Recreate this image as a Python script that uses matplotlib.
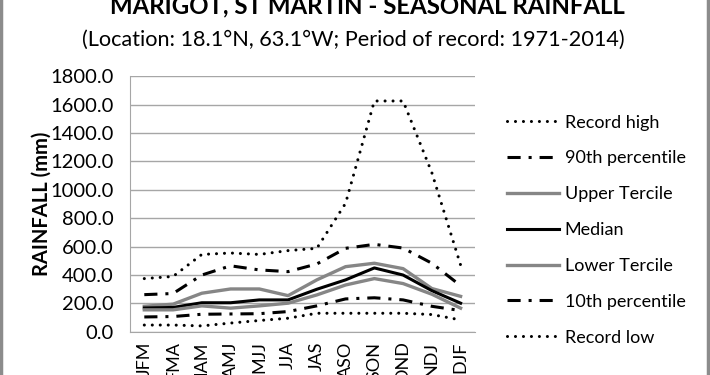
import matplotlib

matplotlib.use("Agg")
import matplotlib.pyplot as plt
from matplotlib.lines import Line2D

seasons = ["JFM", "FMA", "MAM", "AMJ", "MJJ", "JJA",
           "JAS", "ASO", "SON", "OND", "NDJ", "DJF"]

record_high = [375, 390, 545, 555, 545, 572, 588, 905, 1625, 1625, 1120, 470]
pct90 = [262, 270, 400, 465, 436, 424, 478, 588, 616, 590, 483, 325]
upper_tercile = [180, 195, 272, 302, 302, 255, 366, 459, 483, 445, 305, 250]
median = [168, 172, 205, 205, 225, 225, 300, 366, 450, 400, 290, 202]
lower_tercile = [155, 155, 183, 167, 183, 202, 260, 330, 375, 340, 265, 167]
pct10 = [105, 108, 124, 126, 128, 143, 183, 232, 240, 225, 180, 150]
record_low = [48, 48, 42, 62, 80, 96, 131, 131, 131, 131, 122, 84]

plt.rcParams["font.family"] = ["Lato", "DejaVu Sans"]

fig = plt.figure(figsize=(7.1, 3.75), dpi=100)
ax = fig.add_axes([0.183, 0.115, 0.486, 0.682])

x = range(len(seasons))
dot = (0, (0.01, 2.6))
dashdot = (0, (4.3, 2.6, 1.0, 2.6))

ax.plot(x, record_high, color="black", lw=2.2, linestyle=dot,
        dash_capstyle="round", label="Record high")
ax.plot(x, pct90, color="black", lw=2.2, linestyle=dashdot,
        dash_capstyle="butt", label="90th percentile")
ax.plot(x, upper_tercile, color="#868686", lw=2.4, label="Upper Tercile")
ax.plot(x, median, color="black", lw=2.2, label="Median")
ax.plot(x, lower_tercile, color="#868686", lw=2.4, label="Lower Tercile")
ax.plot(x, pct10, color="black", lw=2.2, linestyle=dashdot,
        dash_capstyle="butt", label="10th percentile")
ax.plot(x, record_low, color="black", lw=2.2, linestyle=dot,
        dash_capstyle="round", label="Record low")

ax.set_xlim(-0.5, len(seasons) - 0.5)
ax.set_ylim(0, 1800)
ax.set_yticks(range(0, 1801, 200))
ax.set_yticklabels([f"{v:.1f}" for v in range(0, 1801, 200)], fontsize=14.5)
ax.set_xticks(list(x))
ax.set_xticklabels(seasons, rotation=90, fontsize=13, va="top")
ax.tick_params(axis="y", length=0, pad=12)
ax.tick_params(axis="x", length=0, pad=7)
ax.yaxis.grid(True, color="#a6a6a6", lw=1)
ax.set_axisbelow(True)
for side in ("top", "right"):
    ax.spines[side].set_visible(False)
for side in ("left", "bottom"):
    ax.spines[side].set_color("#a6a6a6")
ax.set_ylabel("RAINFALL (mm)", fontsize=14.5, fontweight="bold", labelpad=-1)

ax.legend(loc="center left", bbox_to_anchor=(1.072, 0.398), borderaxespad=0,
          frameon=False, fontsize=13, handlelength=2.9, labelspacing=1.1,
          handletextpad=0.3)

fig.text(0.517, 0.985, "MARIGOT, ST MARTIN - SEASONAL RAINFALL",
         ha="center", va="center", fontsize=17.3, fontweight="bold")
fig.text(0.497, 0.893, "(Location: 18.1\u00b0N, 63.1\u00b0W; Period of record: 1971-2014)",
         ha="center", va="center", fontsize=15.6)

fig.add_artist(Line2D([0.002, 0.002], [0, 1], color="#8c8c8c", lw=2.5,
                      transform=fig.transFigure))
fig.add_artist(Line2D([0.997, 0.997], [0, 1], color="#8c8c8c", lw=2.5,
                      transform=fig.transFigure))

fig.savefig("out.png", dpi=100)
